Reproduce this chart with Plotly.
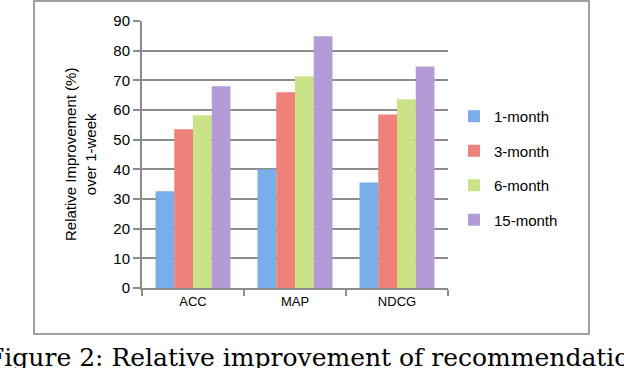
import plotly.graph_objects as go

# data
metrics = ['ACC', 'MAP', 'NDCG']
one_month = [32.6, 40.0, 35.6]
three_month = [53.5, 66.0, 58.5]
six_month = [58.2, 71.4, 63.6]
fifteen_month = [68.0, 84.9, 74.7]

series = [
    ('1-month', one_month, '#7aaee9'),
    ('3-month', three_month, '#ee817a'),
    ('6-month', six_month, '#c9e386'),
    ('15-month', fifteen_month, '#b39bd8'),
]

# plot area in pixels (624x368 page)
L, R, T, B = 142, 448, 21, 288
W, H = 624, 368


def px(x):
    return (x - L) / (R - L)


def py(y):
    return (B - y) / (B - T)


fig = go.Figure()
for name, vals, col in series:
    fig.add_trace(go.Bar(x=metrics, y=vals, name=name, marker_color=col,
                         marker_line_width=0, legendgroup=name))

axis_col = '#8c8c8c'
fig.update_layout(
    width=W, height=H,
    margin=dict(l=L, r=W - R, t=T, b=H - B),
    paper_bgcolor='white', plot_bgcolor='white',
    barmode='group', bargap=0.265, bargroupgap=0,
    font=dict(family='Liberation Sans, Arial, sans-serif', color='black'),
    showlegend=True,
    legend=dict(x=px(454), y=py(100), xanchor='left', yanchor='top',
                font=dict(size=15), itemwidth=30, tracegroupgap=12,
                traceorder='grouped', bgcolor='rgba(0,0,0,0)'),
    xaxis=dict(showline=True, linecolor=axis_col, linewidth=2,
               ticks='outside', ticklen=6, tickcolor=axis_col, tickwidth=2,
               tickson='boundaries', tickfont=dict(size=13),
               showgrid=False),
    yaxis=dict(range=[0, 90], dtick=10, showline=True, linecolor=axis_col,
               linewidth=2, ticks='outside', ticklen=7, tickcolor=axis_col,
               tickwidth=2, gridcolor=axis_col, gridwidth=2,
               tickfont=dict(size=15), zeroline=False),
)

# outer chart frame
fig.add_shape(type='rect', xref='paper', yref='paper',
              x0=px(34), x1=px(589), y0=py(334), y1=py(1),
              line=dict(color='#a0a0a0', width=2), fillcolor='rgba(0,0,0,0)',
              layer='below')

# y axis title
fig.add_annotation(xref='paper', yref='paper', x=px(80), y=py(155),
                   xanchor='center', yanchor='middle',
                   text='Relative Improvement (%)<br>over 1-week',
                   textangle=-90, showarrow=False, font=dict(size=15))

# caption under the chart (cut off by the page edge, as in the source)
fig.add_annotation(xref='paper', yref='paper', x=px(-15), y=py(357),
                   xanchor='left', yanchor='middle',
                   text='Figure 2: Relative improvement of recommendation',
                   showarrow=False,
                   font=dict(family='DejaVu Serif, serif', size=25))

fig.write_html('out.html', config={'displayModeBar': False},
               post_script="document.body.style.margin='0';")
